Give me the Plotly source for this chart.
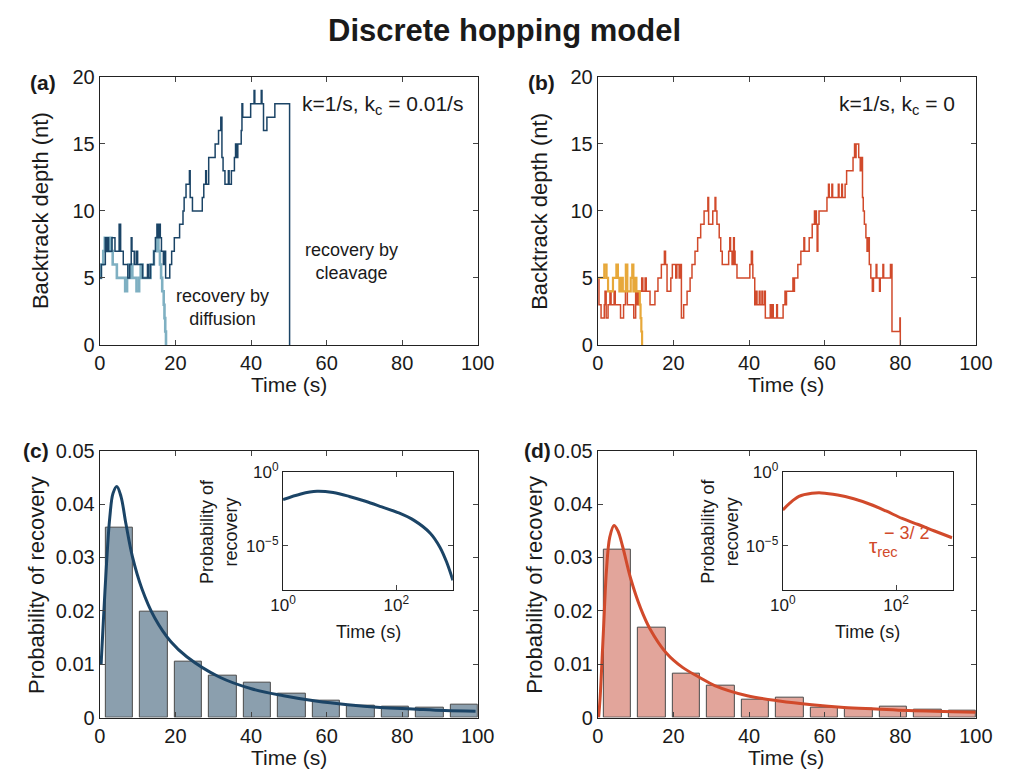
import plotly.graph_objects as go

W, H = 1013, 780
FONT = "Liberation Sans, Arial, Helvetica, sans-serif"

# ---------------- data ----------------
# Panel (a): backtrack trajectories (time s, depth nt), step functions
a_cleave_t = [0, 0.4, 1.45, 1.7, 1.9, 2.3, 3.2, 4.0, 5.1, 5.5, 6.2, 7.4, 7.9, 8.3, 8.5, 9.1, 9.6, 10.0,
              11.3, 12.6, 12.9, 13.4, 14.3, 14.7, 15.1, 15.4, 15.6, 16.0, 16.3, 16.8, 17.1, 17.4, 18.5,
              19.0, 19.7, 21.1, 22.0, 22.3, 22.8, 23.7, 23.9, 24.5, 27.1, 27.5, 28.0, 28.2, 28.8, 30.5,
              31.4, 32.0, 32.3, 32.6, 33.1, 34.0, 34.2, 34.8, 35.6, 35.9, 36.1, 36.5, 37.4, 37.6, 37.8,
              39.9, 40.8, 41.0, 42.7, 42.9, 43.3, 44.2, 46.3, 50.2]
a_cleave_v = [5, 6, 8, 7, 8, 7, 8, 7, 9, 7, 6, 5, 6, 8, 7, 6, 7, 6,
              5, 6, 5, 6, 7, 8, 9, 8, 9, 8, 7, 6, 7, 5, 6,
              7, 8, 9, 10, 11, 12, 13, 11, 10, 11, 12, 13, 12, 14, 15,
              16, 17, 14, 13, 12, 13, 12, 13, 14, 15, 14, 15, 16, 18, 17,
              18, 19, 18, 19, 18, 16, 17, 18, 0]

a_diff_t = [0, 0.3, 0.9, 1.3, 1.6, 2.1, 2.4, 2.8, 3.1, 3.4, 4.5, 6.7, 7.2, 7.6, 7.9, 8.3, 8.6, 9.7,
            10.4, 10.8, 11.3, 13.4, 14.3, 15.0, 15.5, 15.9, 16.2, 16.5, 16.9, 17.1, 17.3, 17.5]
a_diff_v = [5, 6, 7, 8, 7, 8, 7, 8, 7, 6, 5, 4, 5, 6, 5, 6, 5, 4,
            5, 6, 5, 6, 7, 8, 7, 6, 5, 4, 3, 2, 1, 0]

# Panel (b)
b_long_t = [0, 0.3, 0.85, 1.7, 1.9, 2.2, 2.7, 3.2, 3.5, 4.3, 4.6, 6.0, 6.8, 7.3, 7.8, 9.5, 10.0, 10.4,
            10.8, 11.6, 11.9, 12.5, 12.8, 13.8, 15.1, 15.9, 16.8, 17.6, 17.9, 18.3, 19.3, 19.7, 20.6,
            20.9, 21.5, 21.9, 22.1, 22.7, 23.6, 24.4, 24.9, 25.7, 26.4, 27.2, 28.1, 29.1, 29.3, 30.4,
            31.0, 31.2, 31.5, 32.1, 32.5, 32.9, 34.6, 34.9, 35.1, 35.5, 35.9, 36.1, 36.3, 36.8, 40.2,
            40.6, 40.9, 41.0, 41.5, 41.9, 42.1, 42.7, 42.9, 43.4, 43.6, 44.1, 44.3, 45.6, 46.0, 46.2,
            46.4, 47.3, 47.5, 49.0, 49.5, 49.7, 49.9, 51.6, 51.8, 52.0, 52.9, 53.7, 54.5, 54.7, 55.9,
            56.7, 57.3, 57.5, 57.6, 57.8, 58.0, 58.2, 58.5, 60.6, 61.0, 61.2, 61.9, 62.1, 63.6, 63.8,
            64.5, 64.7, 65.4, 65.8, 67.5, 67.9, 68.1, 68.3, 69.0, 69.4, 69.6, 70.0, 70.2, 70.5, 70.9,
            71.2, 71.5, 71.8, 72.2, 72.6, 72.9, 73.6, 73.8, 74.5, 74.7, 75.4, 75.6, 77.4, 77.8, 79.9, 80.0]
b_long_v = [5, 3, 2, 3, 4, 2, 3, 4, 3, 4, 3, 2, 3, 4, 3, 2, 4, 3,
            4, 5, 4, 5, 4, 3, 4, 5, 6, 7, 6, 4, 5, 6, 5,
            6, 5, 6, 2, 3, 4, 5, 6, 7, 8, 9, 10, 11, 9, 10,
            11, 10, 9, 8, 7, 6, 7, 8, 7, 6, 8, 7, 6, 5, 6,
            7, 6, 5, 3, 4, 3, 4, 3, 4, 3, 4, 2, 3, 2, 3,
            2, 3, 2, 3, 4, 3, 4, 5, 4, 5, 6, 7, 8, 7, 8,
            9, 10, 9, 10, 9, 7, 9, 10, 11, 12, 11, 12, 11, 12, 11,
            12, 11, 12, 13, 14, 15, 14, 15, 14, 13, 14, 11, 10, 9, 8,
            7, 8, 6, 5, 4, 5, 6, 5, 4, 5, 6, 5, 6, 1, 2, 0]

b_short_t = [0, 1.7, 2.3, 2.7, 4.0, 4.9, 5.3, 5.7, 6.1, 6.6, 7.4, 7.8, 8.7, 9.1, 9.4, 9.9, 10.2,
             11.1, 11.3, 11.5, 11.7]
b_short_v = [5, 6, 5, 4, 5, 6, 5, 4, 5, 4, 6, 4, 5, 6, 4, 5, 4, 3, 2, 1, 0]

# Panels (c), (d): histograms of recovery times
bin_centers = [5.2, 14.3, 23.4, 32.6, 41.7, 50.8, 59.9, 69.0, 78.2, 87.3, 96.4]
c_hist = [0.0355, 0.0198, 0.0105, 0.0078, 0.0066, 0.0044, 0.0031, 0.0022, 0.0021, 0.0018, 0.0024]
d_hist = [0.0314, 0.0169, 0.0083, 0.0060, 0.0034, 0.0037, 0.0019, 0.0016, 0.0020, 0.0015, 0.0013]

# Theory curves
c_curve_t = [0.33, 0.93, 1.78, 2.63, 3.48, 4.5, 5.6, 6.9, 8.6, 11.1, 14.5, 18.8, 23.0, 31.6, 40.1,
             48.6, 57.1, 65.6, 74.2, 82.7, 91.2, 99.4]
c_curve_p = [0.0099, 0.0181, 0.0290, 0.0375, 0.0420, 0.0433, 0.0414, 0.0363, 0.0302, 0.0242, 0.0187,
             0.0142, 0.0114, 0.0076, 0.0054, 0.0041, 0.0031, 0.0024, 0.0019, 0.0016, 0.0013, 0.0012]
d_curve_t = [0.2, 0.59, 1.44, 2.3, 3.15, 4.26, 5.29, 6.57, 8.7, 11.3, 13.8, 18.1, 22.4, 26.7, 30.9,
             39.5, 48.0, 56.6, 65.1, 73.6, 82.2, 99.9]
d_curve_p = [0.0, 0.0036, 0.0157, 0.0278, 0.0338, 0.0360, 0.0350, 0.0320, 0.0260, 0.0205, 0.0166,
             0.0121, 0.0094, 0.0076, 0.0060, 0.0041, 0.0031, 0.0024, 0.0019, 0.0016, 0.0013, 0.0010]

# Insets (log-log)
c_inset_t = [1.0, 2.06, 3.98, 7.69, 14.8, 28.6, 55.3, 107, 206, 398, 590, 769, 1000]
c_inset_p = [1.38e-2, 3.39e-2, 5.13e-2, 4.17e-2, 2.29e-2, 1.07e-2, 4.47e-3, 1.82e-3, 5.37e-4,
             7.24e-5, 8.13e-6, 8.51e-7, 4.47e-8]
d_inset_t = [1.0, 1.30, 1.93, 3.26, 4.83, 9.31, 17.9, 34.7, 66.5, 128, 247, 479, 977]
d_inset_p = [2.69e-3, 7.41e-3, 2.29e-2, 3.72e-2, 3.98e-2, 2.88e-2, 1.58e-2, 6.76e-3, 2.34e-3,
             7.24e-4, 2.82e-4, 1.02e-4, 3.55e-5]

# colours
NAVY = "#1b4466"
LIGHT = "#7fb0c2"
RED = "#d14a2b"
ORANGE = "#e7a83a"

# ---------------- figure ----------------
def px(x):
    return x / W

def py(y):
    return 1 - y / H

fig = go.Figure()

# (a)
fig.add_trace(go.Scatter(x=a_diff_t, y=a_diff_v, mode="lines", line=dict(color=LIGHT, width=2.6, shape="hv"),
                         xaxis="x", yaxis="y", showlegend=False))
fig.add_trace(go.Scatter(x=a_cleave_t, y=a_cleave_v, mode="lines", line=dict(color=NAVY, width=1.5, shape="hv"),
                         xaxis="x", yaxis="y", showlegend=False))
# (b)
fig.add_trace(go.Scatter(x=b_long_t, y=b_long_v, mode="lines", line=dict(color=RED, width=1.5, shape="hv"),
                         xaxis="x2", yaxis="y2", showlegend=False))
fig.add_trace(go.Scatter(x=b_short_t, y=b_short_v, mode="lines", line=dict(color=ORANGE, width=2.2, shape="hv"),
                         xaxis="x2", yaxis="y2", showlegend=False))
# (c)
fig.add_trace(go.Bar(x=bin_centers, y=c_hist, width=7.3, marker=dict(color="#8b9fae", line=dict(color="#4a4a4a", width=1)),
                     xaxis="x3", yaxis="y3", showlegend=False))
fig.add_trace(go.Scatter(x=c_curve_t, y=c_curve_p, mode="lines", line=dict(color=NAVY, width=3, shape="spline"),
                         xaxis="x3", yaxis="y3", showlegend=False))
# (d)
fig.add_trace(go.Bar(x=bin_centers, y=d_hist, width=7.3, marker=dict(color="#e2a59b", line=dict(color="#4a4a4a", width=1)),
                     xaxis="x4", yaxis="y4", showlegend=False))
fig.add_trace(go.Scatter(x=d_curve_t, y=d_curve_p, mode="lines", line=dict(color=RED, width=3, shape="spline"),
                         xaxis="x4", yaxis="y4", showlegend=False))
# insets
fig.add_trace(go.Scatter(x=c_inset_t, y=c_inset_p, mode="lines", line=dict(color=NAVY, width=3, shape="spline"),
                         xaxis="x5", yaxis="y5", showlegend=False))
fig.add_trace(go.Scatter(x=d_inset_t, y=d_inset_p, mode="lines", line=dict(color=RED, width=3, shape="spline"),
                         xaxis="x6", yaxis="y6", showlegend=False))

tickfont = dict(family=FONT, size=20, color="#1a1a1a")
insetfont = dict(family=FONT, size=17, color="#1a1a1a")

def ax(domain, rng, tickvals, ticktext, anchor, font=tickfont, typ="linear"):
    return dict(domain=domain, range=rng, tickvals=tickvals, ticktext=ticktext, anchor=anchor,
                type=typ, showline=True, linecolor="#222", linewidth=1.2, mirror="allticks",
                ticks="inside", ticklen=5, tickcolor="#444", tickfont=font, showgrid=False,
                zeroline=False, fixedrange=True)

LX = [px(89.5), px(479)]
RX = [px(602.7), px(992.3)]
TY = [py(343), py(67)]
BY = [py(727), py(452)]

xt = [0, 20, 40, 60, 80, 100]
xtt = ["0", "20", "40", "60", "80", "100"]
yta = [0, 5, 10, 15, 20]
ytat = ["0", "5", "10", "15", "20"]
ytc = [0, 0.01, 0.02, 0.03, 0.04, 0.05]
ytct = ["0", "0.01", "0.02", "0.03", "0.04", "0.05"]

layout = dict(
    width=W, height=H, margin=dict(l=0, r=0, t=0, b=0),
    paper_bgcolor="white", plot_bgcolor="white", bargap=0,
    font=dict(family=FONT, color="#1a1a1a"),
    xaxis=ax(LX, [0, 100], xt, xtt, "y"),
    yaxis=ax(TY, [0, 20], yta, ytat, "x"),
    xaxis2=ax(RX, [0, 100], xt, xtt, "y2"),
    yaxis2=ax(TY, [0, 20], yta, ytat, "x2"),
    xaxis3=ax(LX, [0, 100], xt, xtt, "y3"),
    yaxis3=ax(BY, [0, 0.05], ytc, ytct, "x3"),
    xaxis4=ax(RX, [0, 100], xt, xtt, "y4"),
    yaxis4=ax(BY, [0, 0.05], ytc, ytct, "x4"),
    xaxis5=ax([px(278.3), px(453.3)], [0, 3], [1, 100], ["10<sup>0</sup>", "10<sup>2</sup>"], "y5", insetfont, "log"),
    yaxis5=ax([py(595.5), py(474.3)], [-8, 0], [1e-5, 1], ["10<sup>−5</sup>", "10<sup>0</sup>"], "x5", insetfont, "log"),
    xaxis6=ax([px(793.3), px(968.3)], [0, 3], [1, 100], ["10<sup>0</sup>", "10<sup>2</sup>"], "y6", insetfont, "log"),
    yaxis6=ax([py(595.5), py(474.3)], [-8, 0], [1e-5, 1], ["10<sup>−5</sup>", "10<sup>0</sup>"], "x6", insetfont, "log"),
)
fig.update_layout(**layout)

def note(x, y, text, size=20, color="#1a1a1a", angle=0, xanchor="center", bold=False):
    if bold:
        text = "<b>" + text + "</b>"
    fig.add_annotation(x=px(x), y=py(y), xref="paper", yref="paper", text=text, showarrow=False,
                       textangle=angle, xanchor=xanchor, yanchor="middle",
                       font=dict(family=FONT, size=size, color=color))

note(506, 19, "Discrete hopping model", size=31, bold=True)
note(31, 73, "(a)", size=21, bold=True)
note(545, 73, "(b)", size=21, bold=True)
note(24, 452, "(c)", size=21, bold=True)
note(541, 452, "(d)", size=21, bold=True)

note(29, 205, "Backtrack depth (nt)", size=22, angle=-90)
note(543, 205, "Backtrack depth (nt)", size=22, angle=-90)
note(24, 590, "Probability of recovery", size=22, angle=-90)
note(538, 590, "Probability of recovery", size=22, angle=-90)
note(284, 384, "Time (s)", size=21)
note(797, 384, "Time (s)", size=21)
note(284, 768, "Time (s)", size=21)
note(797, 768, "Time (s)", size=21)

note(466, 96, "k=1/s, k<sub>c</sub> = 0.01/s", size=21, xanchor="right")
note(973, 96, "k=1/s, k<sub>c</sub> = 0", size=21, xanchor="right")
note(166, 304, "recovery by<br>diffusion", size=18, xanchor="left")
note(299, 257, "recovery by<br>cleavage", size=18, xanchor="left")

note(212, 535, "Probability of<br>recovery", size=18, angle=-90)
note(728, 535, "Probability of<br>recovery", size=18, angle=-90)
note(366, 639, "Time (s)", size=18)
note(881, 639, "Time (s)", size=18)

note(880, 551, "τ<sub>rec</sub>", size=21, color=RED, xanchor="left")
note(896, 537, "− 3/ 2", size=18, color=RED, xanchor="left")

fig.write_html("out.html")
